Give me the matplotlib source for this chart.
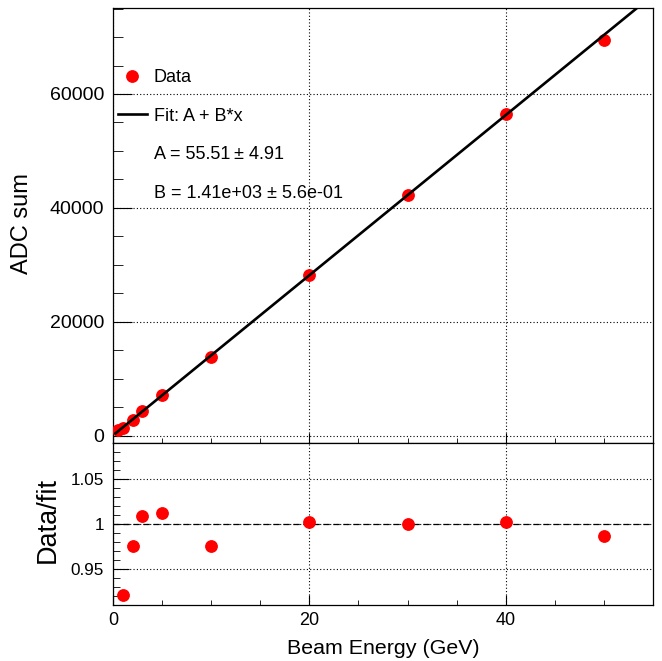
import matplotlib
matplotlib.use("Agg")
import matplotlib.pyplot as plt
import numpy as np
from matplotlib.lines import Line2D
from matplotlib.ticker import MultipleLocator, FixedLocator, FuncFormatter

plt.rcParams['font.family'] = ['Liberation Sans', 'DejaVu Sans']

# beam energies (GeV) and measured ADC sums
energy = np.array([0.5, 1, 2, 3, 5, 10, 20, 30, 40, 50])
adc_sum = np.array([1000, 1346, 2796, 4312, 7173, 13777, 28232, 42236, 56408, 69413])

# linear fit parameters
fit_a = 55.51
fit_b = 1406.0
fit_range = [0.25, 55]
fit_labels = ['Data', 'Fit: A + B*x', 'A = 55.51\u2009\u00b1 4.91', 'B = 1.41e+03 \u00b1 5.6e-01']

W, H = 662, 661
fig = plt.figure(figsize=(W / 100, H / 100), dpi=100)
left, right = 113 / W, 653 / W
ax = fig.add_axes([left, 1 - 443 / H, right - left, (443 - 8) / H])
ax2 = fig.add_axes([left, 1 - 605 / H, right - left, (605 - 443) / H], sharex=ax)

fx = np.linspace(fit_range[0], fit_range[1], 200)
fy = fit_a + fit_b * fx
ratio = adc_sum / (fit_a + fit_b * energy)

ax.plot(energy, adc_sum, 'o', color='red', ms=8.2, zorder=3)
ax.plot(fx, fy, color='black', lw=1.9, zorder=4)
ax.set_xlim(0, 55)
ax.set_ylim(-1280, 75100)

ax2.plot(energy, ratio, 'o', color='red', ms=8.2, zorder=3)
ax2.axhline(1.0, color='black', ls=(0, (5, 3)), lw=0.9, zorder=2)
ax2.set_ylim(0.91, 1.09)

fmt = FuncFormatter(lambda v, p: '%g' % v)
for a in (ax, ax2):
    a.xaxis.set_major_locator(MultipleLocator(20))
    a.xaxis.set_minor_locator(MultipleLocator(5))
    a.grid(True, which='major', ls=(0, (1, 2)), color='black', lw=0.8)
    a.tick_params(axis='x', which='major', direction='in', length=7, top=False)
    a.tick_params(axis='x', which='minor', direction='in', length=3.8, top=False)
    a.yaxis.set_major_formatter(fmt)
    a.xaxis.set_major_formatter(fmt)
    for s in a.spines.values():
        s.set_linewidth(0.9)
    a.set_axisbelow(True)

ax.yaxis.set_major_locator(MultipleLocator(20000))
ax.yaxis.set_minor_locator(MultipleLocator(5000))
ax.tick_params(axis='y', which='major', direction='in', length=13.5, labelsize=14, pad=6.5, right=False)
ax.tick_params(axis='y', which='minor', direction='in', length=7.2, right=False)
ax.tick_params(axis='x', labelbottom=False)

ax2.yaxis.set_major_locator(FixedLocator([0.95, 1.0, 1.05]))
ax2.yaxis.set_minor_locator(MultipleLocator(0.01))
ax2.tick_params(axis='y', which='major', direction='in', length=11.5, labelsize=12.3, pad=6.5, right=False)
ax2.tick_params(axis='y', which='minor', direction='in', length=5, right=False)
ax2.tick_params(axis='x', which='major', labelsize=13, pad=5)

ax.set_ylabel('ADC sum', fontsize=17, va='center')
ax.yaxis.set_label_coords(-0.1685, (443 - 224) / 435)
ax2.set_ylabel('Data/fit', fontsize=19.5, va='center')
ax2.yaxis.set_label_coords(-0.12, (605 - 520) / 162)
ax2.set_xlabel('Beam Energy (GeV)', fontsize=15.4, va='center')
ax2.xaxis.set_label_coords(0.5, -(648 - 605) / 162)

handles = [
    Line2D([], [], ls='none', marker='o', color='red', ms=8.2),
    Line2D([], [], color='black', lw=1.9),
    Line2D([], [], ls='none'),
    Line2D([], [], ls='none'),
]
ax.legend(handles, fit_labels, loc='upper left', bbox_to_anchor=(0.009, 0.86),
          frameon=False, fontsize=13, borderpad=0, borderaxespad=0,
          handlelength=1.6, handletextpad=0.4, labelspacing=1.2)

fig.savefig('out.png', dpi=100)
